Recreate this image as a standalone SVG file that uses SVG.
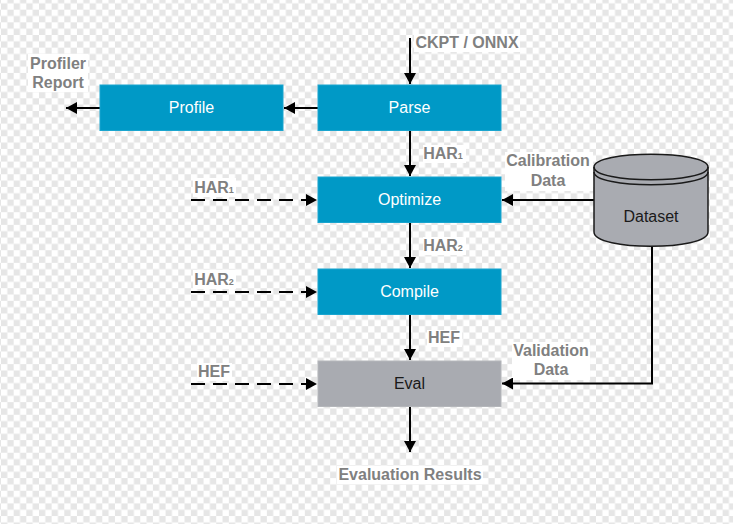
<svg xmlns="http://www.w3.org/2000/svg" width="733" height="524" viewBox="0 0 733 524">
<style>
text{font-family:"Liberation Sans",Arial,sans-serif}
.lbl{font-size:16px;font-weight:bold;fill:#808080;text-anchor:middle}
.sub{font-size:9px;font-weight:bold}
.nt{font-size:16px;text-anchor:middle}
.w{fill:#fff}
.k{fill:#1a1a1a}
.blue{fill:#0099c6;stroke:#1aa5cf;stroke-width:1}
.con{fill:none;stroke:#000;stroke-width:2}
.dash{stroke-dasharray:14 8}
.bg{fill:#fff}
</style>
<defs>
<marker id="arr" markerUnits="userSpaceOnUse" markerWidth="12" markerHeight="12" refX="11" refY="6" orient="auto"><path d="M0 0L11 6L0 12Z" fill="#000"/></marker>
<pattern id="chk" width="12.66" height="12.66" patternUnits="userSpaceOnUse" x="1" y="-3"><rect width="12.66" height="12.66" fill="#fff"/><rect x="6.33" y="0" width="6.33" height="6.33" fill="#e6e6e6"/><rect x="0" y="6.33" width="6.33" height="6.33" fill="#e6e6e6"/></pattern>
</defs>
<rect width="733" height="524" fill="url(#chk)"/>
<g id="label-backgrounds">
<rect class="bg" x="28" y="54" width="60" height="38"/>
<rect class="bg" x="193" y="178" width="43" height="19"/>
<rect class="bg" x="193" y="270" width="43" height="19"/>
<rect class="bg" x="197" y="363" width="35" height="18"/>
<rect class="bg" x="414" y="34" width="106" height="18"/>
<rect class="bg" x="423" y="145" width="43" height="18"/>
<rect class="bg" x="423" y="237" width="43" height="18"/>
<rect class="bg" x="427" y="330" width="35" height="17"/>
<rect class="bg" x="505" y="152" width="88" height="39"/>
<rect class="bg" x="512" y="342" width="78" height="38"/>
<rect class="bg" x="337" y="466" width="146" height="18"/>
</g>
<g id="connectors">
<path class="con" marker-end="url(#arr)" d="M410 38V84"/>
<path class="con" marker-end="url(#arr)" d="M318 108H284"/>
<path class="con" marker-end="url(#arr)" d="M100 108H66"/>
<path class="con" marker-end="url(#arr)" d="M410 131V176"/>
<path class="con" marker-end="url(#arr)" d="M410 223V268"/>
<path class="con" marker-end="url(#arr)" d="M410 315V360"/>
<path class="con" marker-end="url(#arr)" d="M410 407V452"/>
<path class="con" marker-end="url(#arr)" d="M594 200H502"/>
<path class="con" marker-end="url(#arr)" d="M652 245V383.500H502"/>
<path class="con dash" marker-end="url(#arr)" d="M191 200H317"/>
<path class="con dash" marker-end="url(#arr)" d="M191 292H317"/>
<path class="con dash" marker-end="url(#arr)" d="M191 384H317"/>
</g>
<g id="profile"><rect class="blue" x="100" y="85" width="183" height="45.500"/><text class="nt w" x="191.500" y="113">Profile</text></g>
<g id="parse"><rect class="blue" x="318" y="85" width="183" height="45.500"/><text class="nt w" x="409.500" y="113">Parse</text></g>
<g id="optimize"><rect class="blue" x="318" y="177" width="183" height="45.500"/><text class="nt w" x="409.500" y="205">Optimize</text></g>
<g id="compile"><rect class="blue" x="318" y="269" width="183" height="45.500"/><text class="nt w" x="409.500" y="297">Compile</text></g>
<g id="eval"><rect x="318" y="361" width="183" height="45.500" fill="#a9abb1" stroke="#b5b7bb"/><text class="nt k" x="409.500" y="389">Eval</text></g>
<g id="dataset">
<path d="M594 167C594 150 708 150 708 167V232C708 251 594 251 594 232Z" fill="#a9abb1" stroke="#1a1a1a" stroke-width="1.500"/>
<path d="M594 167C594 184 708 184 708 167" fill="none" stroke="#1a1a1a" stroke-width="1.500"/>
<path d="M594 172C594 189 708 189 708 172" fill="none" stroke="#1a1a1a" stroke-width="1.500"/>
<text class="nt k" x="651" y="222">Dataset</text>
</g>
<g id="labels">
<text class="lbl" x="58" y="69">Profiler</text>
<text class="lbl" x="58" y="88">Report</text>
<text class="lbl" x="467" y="48">CKPT / ONNX</text>
<text class="lbl" x="443" y="159">HAR<tspan class="sub" dy="0">1</tspan></text>
<text class="lbl" x="443" y="251">HAR<tspan class="sub" dy="0">2</tspan></text>
<text class="lbl" x="214" y="193">HAR<tspan class="sub" dy="0">1</tspan></text>
<text class="lbl" x="214" y="285">HAR<tspan class="sub" dy="0">2</tspan></text>
<text class="lbl" x="214" y="377">HEF</text>
<text class="lbl" x="444" y="343">HEF</text>
<text class="lbl" x="548" y="166">Calibration</text>
<text class="lbl" x="548" y="186">Data</text>
<text class="lbl" x="551" y="356">Validation</text>
<text class="lbl" x="551" y="375">Data</text>
<text class="lbl" x="410" y="480">Evaluation Results</text>
</g>
</svg>
